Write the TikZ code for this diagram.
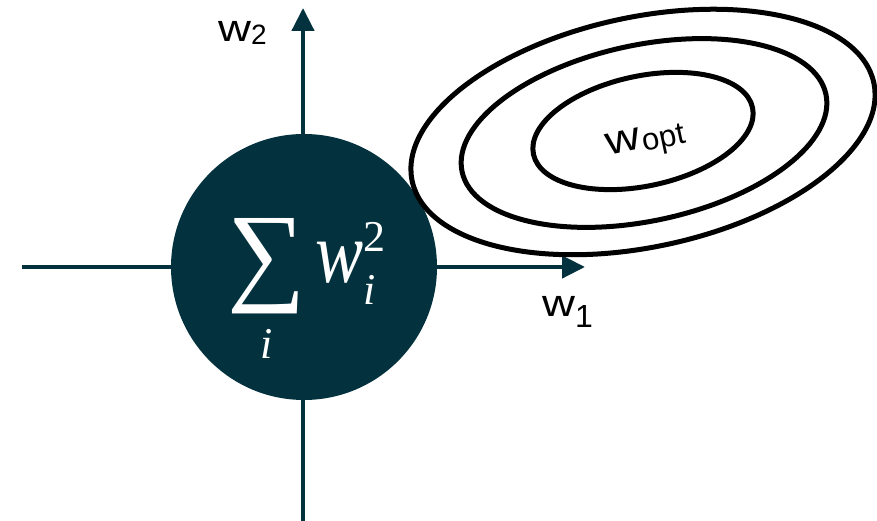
\RequirePackage{fix-cm}
\documentclass[tikz,border=0pt]{standalone}
\usepackage{amsmath}
\usepackage{fontspec}
\usepackage{graphicx}
\newfontfamily\labelfont{Liberation Sans}
\newfontfamily\formfont{Liberation Serif}
\usetikzlibrary{arrows.meta,shapes.geometric}
\definecolor{deepteal}{HTML}{03323E}
\DeclareMathSizes{88}{88}{44}{34}
\newcommand{\wsym}{\scalebox{1.2}[1]{w}}

\begin{document}
\begin{tikzpicture}[x=1pt,y=1pt,>={Triangle[length=23pt,width=22pt]}]
    \tikzstyle{axis}=[draw=deepteal,line width=4.5pt]
    \tikzstyle{contour}=[draw=black,line width=5pt,fill=white,ellipse,inner sep=0pt,rotate=12]
    \tikzstyle{lab}=[inner sep=0pt,font=\labelfont\fontsize{38}{38}\selectfont]
    \useasboundingbox (0,0) rectangle (877,521);

    % axes
    \coordinate (xl) at (22,254);
    \coordinate (xr) at (585,254);
    \coordinate (yb) at (303,0);
    \coordinate (yt) at (303,513);
    \draw[axis,->] (xl) -- (xr);
    \draw[axis,->] (yb) -- (yt);

    % penalty disc
    \node[circle,fill=deepteal,minimum size=266pt,inner sep=0pt] (reg) at (304,254) {};
    \node[anchor=base,text=white,inner sep=0pt,font=\formfont\fontsize{88}{88}\selectfont] (sumw) at ([xshift=3pt,yshift=-16pt]reg.center)
        {$\mathop{\raisebox{-8pt}[\height][42pt]{\scalebox{1.25}{∑}}}\limits_{\text{\itshape i}}\mkern-1mu\text{\itshape\scalebox{0.82}[1]{w}}_{\text{\itshape i}}^{\text{2}}$};

    % loss contours
    \node[contour,minimum width=472pt,minimum height=230pt] (outer) at (643,389) {};
    \node[contour,minimum width=372pt,minimum height=176pt] (middle) at (644,388) {};
    \node[contour,minimum width=224pt,minimum height=110pt] (inner) at (643,390) {};

    \node[lab,anchor=base west] (w2) at (218,479) {\wsym\raisebox{-3pt}{\fontsize{28}{28}\selectfont 2}};
    \node[lab,anchor=base west] (w1) at (542,204) {\wsym\raisebox{-11pt}{\fontsize{32}{32}\selectfont 1}};
    \node[lab,rotate=12,font=\labelfont\fontsize{40}{40}\selectfont] (wopt) at (646,379) {\wsym\kern1.5pt\raisebox{-4pt}{\fontsize{31}{31}\selectfont opt}};
\end{tikzpicture}
\end{document}
